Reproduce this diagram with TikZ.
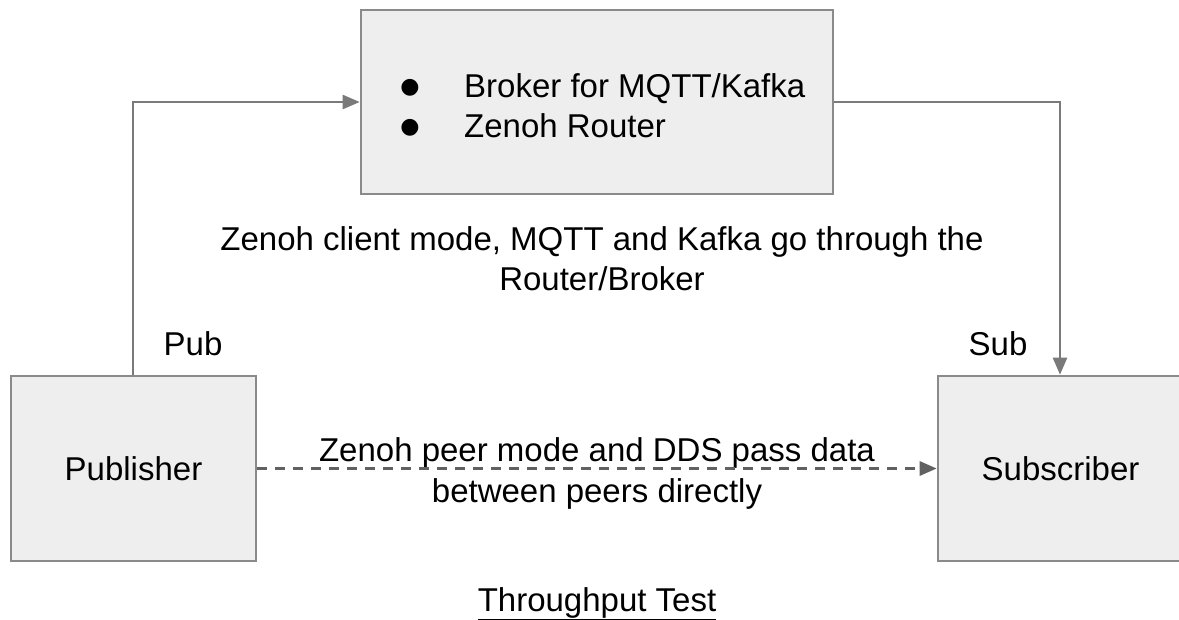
\documentclass[tikz,border=0pt]{standalone}
\usepackage{fontspec}
\setmainfont{Liberation Sans}
\newfontfamily\symfont{DejaVu Sans}
\usetikzlibrary{arrows.meta}
\definecolor{boxfill}{HTML}{EEEEEE}
\definecolor{boxline}{HTML}{8A8A8A}
\definecolor{arrline}{HTML}{7A7A7A}
\definecolor{dashline}{HTML}{616161}
\tikzset{
  box/.style={draw=boxline, fill=boxfill, line width=2.6pt, inner sep=0pt},
  lbl/.style={inner sep=0pt, font=\fontsize{33}{40}\selectfont},
  conn/.style={draw=arrline, line width=2.4pt, -{Triangle[length=17pt,width=14pt]}},
  dashconn/.style={draw=dashline, line width=3pt, dash pattern=on 10pt off 8pt, -{Triangle[length=17pt,width=14pt]}},
}
\begin{document}
\begin{tikzpicture}[x=1pt,y=-1pt]
\useasboundingbox (0,0) rectangle (1179,619);
\clip (0,0) rectangle (1179,619);
\node[box, minimum width=472pt, minimum height=184pt] (broker) at (597,102) {};
\node[box, minimum width=245pt, minimum height=185pt] (pub) at (133.5,468.5) {};
\node[box, minimum width=245pt, minimum height=185pt] (sub) at (1060.5,468.5) {};
\node[lbl, anchor=base] (pubtxt) at (133.5,480) {Publisher};
\node[lbl, anchor=base] (subtxt) at (1060.5,480) {Subscriber};
\node[lbl, anchor=base, font=\symfont\fontsize{22}{26}\selectfont] (b1) at (410,93) {●};
\node[lbl, anchor=base, font=\symfont\fontsize{22}{26}\selectfont] (b2) at (410,133) {●};
\node[lbl, anchor=base west] (t1) at (464,97) {Broker for MQTT/Kafka};
\node[lbl, anchor=base west] (t2) at (464,137) {Zenoh Router};
\node[lbl, anchor=base] (c1) at (602,250) {Zenoh client mode, MQTT and Kafka go through the};
\node[lbl, anchor=base] (c2) at (602,290) {Router/Broker};
\node[lbl, anchor=base] (publbl) at (193,355) {Pub};
\node[lbl, anchor=base] (sublbl) at (998,355) {Sub};
\node[lbl, anchor=base] (p1) at (597,461) {Zenoh peer mode and DDS pass data};
\node[lbl, anchor=base] (p2) at (597,502) {between peers directly};
\node[lbl, anchor=base] (title) at (597,611) {\underline{Throughput Test}};
\coordinate (k1) at (133,102);
\coordinate (k2) at (1060,102);
\draw[conn] (pub.north -| k1) -- (k1) -- (broker.west |- k1);
\draw[conn] (broker.east |- k2) -- (k2) -- (sub.north -| k2);
\draw[dashconn] (pub.east) -- (sub.west);
\end{tikzpicture}
\end{document}
